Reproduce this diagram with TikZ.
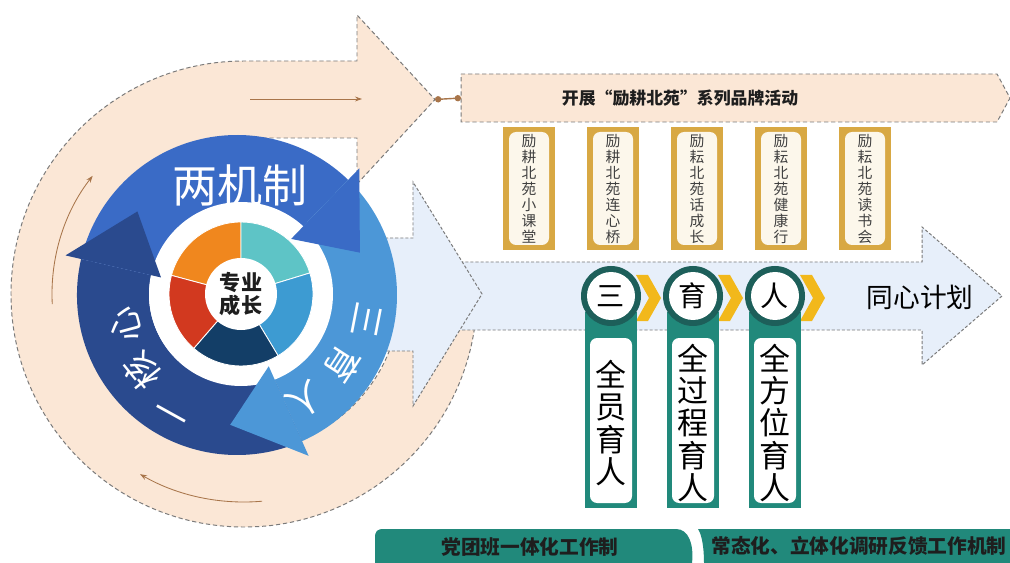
\documentclass[tikz,border=0pt]{standalone}
\usepackage{fontspec}
\newfontfamily\cjk{Noto Sans CJK SC}
\usetikzlibrary{calc,arrows.meta}

\definecolor{peach}{HTML}{FBE7D6}
\definecolor{iceblue}{HTML}{E7EFFA}
\definecolor{dashgray}{HTML}{7A7A7A}
\definecolor{flowbrown}{HTML}{A8754A}
\definecolor{midblue}{HTML}{3A6BC6}
\definecolor{lightblue}{HTML}{4C97D7}
\definecolor{navy}{HTML}{2A4A8E}
\definecolor{pieorange}{HTML}{F0871E}
\definecolor{pieteal}{HTML}{5EC4C6}
\definecolor{pieblue}{HTML}{3D9BD2}
\definecolor{piedark}{HTML}{133E67}
\definecolor{piered}{HTML}{D2391F}
\definecolor{gold}{HTML}{D8A843}
\definecolor{cream}{HTML}{FCF7EB}
\definecolor{tealbar}{HTML}{21897B}
\definecolor{tealring}{HTML}{1D5F5A}
\definecolor{chevron}{HTML}{F2B81B}
\definecolor{ink}{HTML}{1E1E1E}

\tikzset{
  band/.style={fill=peach, draw=dashgray, line width=0.7pt, dash pattern=on 3pt off 2pt},
  ice/.style={fill=iceblue, draw=dashgray, line width=0.7pt, dash pattern=on 2.2pt off 1.4pt},
  flow/.style={draw=flowbrown, line width=0.6pt, -{Stealth[length=5pt,width=3.5pt]}},
  link/.style={draw=flowbrown, line width=1pt, {Circle[length=4.5pt]}-{Circle[length=4.5pt]}},
  bigtext/.style={text=white, inner sep=0pt, font=\cjk\fontsize{32}{34}\selectfont},
  arctext/.style={text=white, inner sep=0pt, font=\cjk\fontsize{25}{25}\selectfont},
  coretext/.style={text=ink, inner sep=0pt, align=center, font=\cjk\bfseries\fontsize{15}{17}\selectfont},
  titletext/.style={text=ink, inner sep=0pt, font=\cjk\bfseries\fontsize{12}{12}\selectfont},
  acttext/.style={text=ink!85, inner sep=0pt, align=center, font=\cjk\fontsize{10.5}{11.4}\selectfont},
  waytext/.style={text=black, inner sep=0pt, align=center, font=\cjk\fontsize{22}{22.8}\selectfont},
  steptext/.style={text=black, inner sep=0pt, font=\cjk\fontsize{20}{20}\selectfont},
  plantext/.style={text=black, inner sep=0pt, font=\cjk\fontsize{19}{19}\selectfont},
  ruletext/.style={text=ink, inner sep=0pt, font=\cjk\bfseries\fontsize{14}{14}\selectfont}
}

\def\ringbody[#1](#2:#3){\fill[#1] ($(D)+(#2:88)$) arc[start angle=#2, end angle=#3, radius=88] -- ($(D)+(#3:160)$) arc[start angle=#3, end angle=#2, radius=160] -- cycle;}
\def\ringhead[#1](#2){\fill[#1] ($(D)+(#2:78)$) -- ($(D)+(#2:176)$) -- ($(D)+({#2+27}:130)$) -- cycle;}

\begin{document}
\begin{tikzpicture}[x=0.025cm, y=-0.025cm]
  %%%%% START %%%%%
  \useasboundingbox (0,0) rectangle (1010,563);
  \fill[white] (0,0) rectangle (1010,563);

  % peach loop arrow
  \coordinate (O) at (244,294);
  \filldraw[band] ($(O)+(5:233)$) arc[start angle=5, end angle=270, radius=233] -- (357,61) -- (357,15)
    -- (435,99.5) coordinate (ptip) -- (357,184) -- (357,138) -- (244,138) arc[start angle=270, end angle=5, radius=156] -- cycle;
  \draw[flow] (250,99) -- (362,99);
  \draw[flow] ($(O)+(177:192)$) arc[start angle=177, end angle=218, radius=192];
  \draw[flow] ($(O)+(85:208)$) arc[start angle=85, end angle=120, radius=208];

  % light blue arrows
  \filldraw[ice] (440,262) -- (922,262) -- (922,227) -- (1002,296) -- (922,365) -- (922,330) -- (440,330) -- cycle;
  \filldraw[ice] (380,238) -- (413,238) -- (413,182) -- (482,294) -- (413,406) -- (413,351) -- (380,351) -- cycle;

  % banner
  \filldraw[band] (461,74) -- (997,74) -- (1010,98) -- (997,122) -- (461,122) -- cycle;
  \coordinate (bannerleft) at (461,98);
  \draw[link] (ptip) -- (bannerleft);
  \node[titletext] (title) at (680,98) {开展“励耕北苑”系列品牌活动};

  % activity boxes
  \foreach \i/\lbl in {0/{励\\耕\\北\\苑\\小\\课\\堂},1/{励\\耕\\北\\苑\\连\\心\\桥},2/{励\\耘\\北\\苑\\话\\成\\长},3/{励\\耘\\北\\苑\\健\\康\\行},4/{励\\耘\\北\\苑\\读\\书\\会}}{
    \fill[gold] ({503+84*\i},127) rectangle ({555+84*\i},250);
    \fill[cream, rounded corners=5pt] ({509+84*\i},132) rectangle ({549+84*\i},245);
    \node[acttext] (act\i) at ({529+84*\i},189) {\lbl};
  }

  % disk
  \coordinate (D) at (237,295);
  \coordinate (P) at (241,294);
  \ringbody[navy](66:193)
  \ringbody[midblue](193:314)
  \ringbody[lightblue](314:426)
  \fill[white] (P) circle[radius=92];
  \ringhead[navy](193)
  \ringhead[midblue](314)
  \ringhead[lightblue](426)
  \foreach \a/\b/\c in {195/270/pieorange, 270/343/pieteal, 343/419/pieblue, 419/491/piedark, 491/555/piered}
    \filldraw[fill=\c, draw=white, line width=0.6pt] (P) -- ($(P)+(\a:72)$) arc[start angle=\a, end angle=\b, radius=72] -- cycle;
  \fill[white] (P) circle[radius=36];
  \node[coretext] (core) at (P) {专业\\成长};
  \node[bigtext] (mech) at (240,185) {两机制};
  \foreach \hz/\ang/\r [count=\k] in {三/11/132, 育/33/127, 人/57/125}
    \node[arctext, rotate={-\ang-90}] (edu\k) at ($(D)+(\ang:\r)$) {\hz};
  \foreach \hz/\ang/\r [count=\k] in {一/119/130, 核/141/122, 心/165/116}
    \node[arctext, rotate={-\ang-90}] (core\k) at ($(D)+(\ang:\r)$) {\hz};

  % three pillars
  \foreach \x in {636,718,800}
    \fill[chevron] (\x,275) -- ({\x+12},275) -- ({\x+25},298) -- ({\x+12},321) -- (\x,321) -- ({\x+13},298) -- cycle;
  \foreach \i/\ttl/\lbl in {0/三/{全\\员\\育\\人}, 1/育/{全\\过\\程\\育\\人}, 2/人/{全\\方\\位\\育\\人}}{
    \pgfmathsetmacro\cx{611+82*\i}
    \fill[tealbar] ({\cx-26},312) rectangle ({\cx+26},508);
    \fill[white, rounded corners=5pt] ({\cx-21},338) rectangle ({\cx+21},503);
    \node[waytext] (way\i) at (\cx,423) {\lbl};
    \fill[tealring] (\cx,296) circle[radius=30];
    \fill[white] (\cx,296) circle[radius=24];
    \node[steptext] (step\i) at (\cx,296) {\ttl};
  }
  \node[plantext] (plan) at (920,297) {同心计划};

  % bottom bars
  \fill[tealbar] (375,563) -- (375,538) .. controls (375,531) and (377,529) .. (384,529) -- (676,529)
    .. controls (689,529) and (694,545) .. (692,563) -- cycle;
  \fill[tealbar] (698,529) -- (1010,529) -- (1010,563) -- (704,563) .. controls (704,548) and (702,535) .. (698,529) -- cycle;
  \node[ruletext] (rule1) at (530,547) {党团班一体化工作制};
  \node[ruletext] (rule2) at (859,546) {常态化、立体化调研反馈工作机制};
  %%%%% END %%%%%
\end{tikzpicture}
\end{document}
